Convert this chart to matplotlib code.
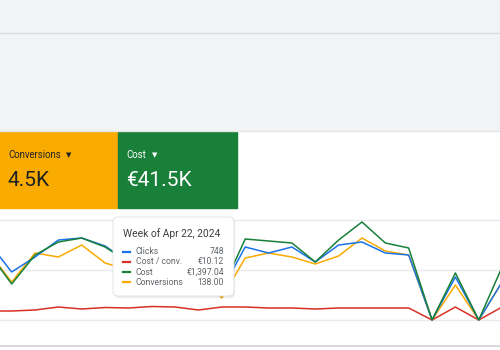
import matplotlib.pyplot as plt
from matplotlib.patches import Rectangle, FancyBboxPatch

plt.rcParams['font.family'] = ['Roboto', 'DejaVu Sans']

# weekly points, index -1 starts just off the left edge
weeks = list(range(-1, 22))
clicks = [78, 48, 63, 80, 82, 74, 58, 65, 70, 58, 30, 73, 67, 73, 58, 75, 78, 67, 65, 0, 43, 0, 38]
cost_per_conv = [9, 9, 10, 13, 11, 12.5, 12, 13.5, 13, 10, 13, 13, 12, 12, 11, 12, 12, 12, 12, 0, 13, 0, 13]
cost = [68, 36, 65, 78, 82, 73, 58, 65, 68, 55, 30, 81, 79, 77, 58, 80, 98, 77, 72, 0, 47, 0, 53]
conversions = [68, 38, 67, 63, 75, 57, 50, 58, 62, 48, 22, 62, 67, 63, 56, 64, 82, 69, 65, 0, 35, 0, 38]

tip_title = "Week of Apr 22, 2024"
tip_names = ["Clicks", "Cost / conv.", "Cost", "Conversions"]
tip_values = ["748", "€10.12", "€1,397.04", "138.00"]

card_labels = ["Conversions", "Cost"]
card_values = ["4.5K", "€41.5K"]

BLUE, RED, GREEN, ORANGE = '#1a73e8', '#d93025', '#188038', '#f9ab00'

fig = plt.figure(figsize=(5, 3.5), dpi=100)
fig.patch.set_facecolor('white')

# page layer in pixel coordinates
bg = fig.add_axes([0, 0, 1, 1])
bg.set_xlim(0, 500)
bg.set_ylim(350, 0)
bg.axis('off')
bg.add_patch(Rectangle((0, 0), 500, 130, color='#f1f3f4', zorder=0))
bg.plot([0, 500], [32.5, 32.5], color='#dadce0', lw=1)
bg.plot([0, 500], [130.5, 130.5], color='#e3e5e8', lw=1)

card_colors = [ORANGE, GREEN]
card_text = ['#202124', 'white']
card_x = [0, 118]
card_arrow = [69, 155]
for lab, val, cc, tc, x0, ax0 in zip(card_labels, card_values, card_colors, card_text, card_x, card_arrow):
    bg.add_patch(Rectangle((x0, 132), 119 if x0 else 117, 76, color=cc, zorder=1))
    bg.text(x0 + 8, 155, lab, color=tc, fontsize=6.9, va='center', zorder=2)
    bg.text(ax0, 155.5, "▼", color=tc, fontsize=5, va='center', ha='center', zorder=2)
    bg.text(x0 + 8, 181, val, color=tc, fontsize=15, va='center', zorder=2)

# chart
ax = fig.add_axes([0, 4 / 350, 1, 136 / 350])
ax.set_xlim(-0.5, 20.91)
ax.set_ylim(-26, 110)
for g in [0, 50, 100]:
    ax.axhline(g, color='#e8eaed', lw=1, zorder=0)
ax.plot(weeks, cost_per_conv, color=RED, lw=1.1, zorder=2)
ax.plot(weeks, conversions, color=ORANGE, lw=1.1, zorder=3)
ax.plot(weeks, clicks, color=BLUE, lw=1.1, zorder=4)
ax.plot(weeks, cost, color=GREEN, lw=1.1, zorder=5)
for s in ['top', 'left', 'right']:
    ax.spines[s].set_visible(False)
ax.spines['bottom'].set_color('#d0d2d5')
ax.spines['bottom'].set_linewidth(1.2)
ax.set_xticks([])
ax.set_yticks([])
ax.set_facecolor('none')

# tooltip on top
tip = fig.add_axes([0, 0, 1, 1])
tip.set_xlim(0, 500)
tip.set_ylim(350, 0)
tip.axis('off')
tip.add_patch(FancyBboxPatch((114, 218), 121, 80, boxstyle='round,pad=0,rounding_size=5',
                             fc='#000000', ec='none', alpha=0.08, zorder=1))
tip.add_patch(FancyBboxPatch((113, 217), 121, 79, boxstyle='round,pad=0,rounding_size=5',
                             fc='white', ec='#e0e0e0', lw=0.6, zorder=2))
tip.text(123, 234, tip_title, fontsize=7.4, color='#3c4043', va='center', zorder=3)
row_colors = [BLUE, RED, GREEN, ORANGE]
for i, (n, v, c) in enumerate(zip(tip_names, tip_values, row_colors)):
    yy = 251.5 + i * 10.3
    tip.plot([123, 130], [yy, yy], color=c, lw=1.6, zorder=3)
    tip.text(136, yy, n, fontsize=6.2, color='#5f6368', va='center', zorder=3)
    tip.text(224, yy, v, fontsize=6.2, color='#5f6368', va='center', ha='right', zorder=3)

fig.savefig('out.png', dpi=100)
